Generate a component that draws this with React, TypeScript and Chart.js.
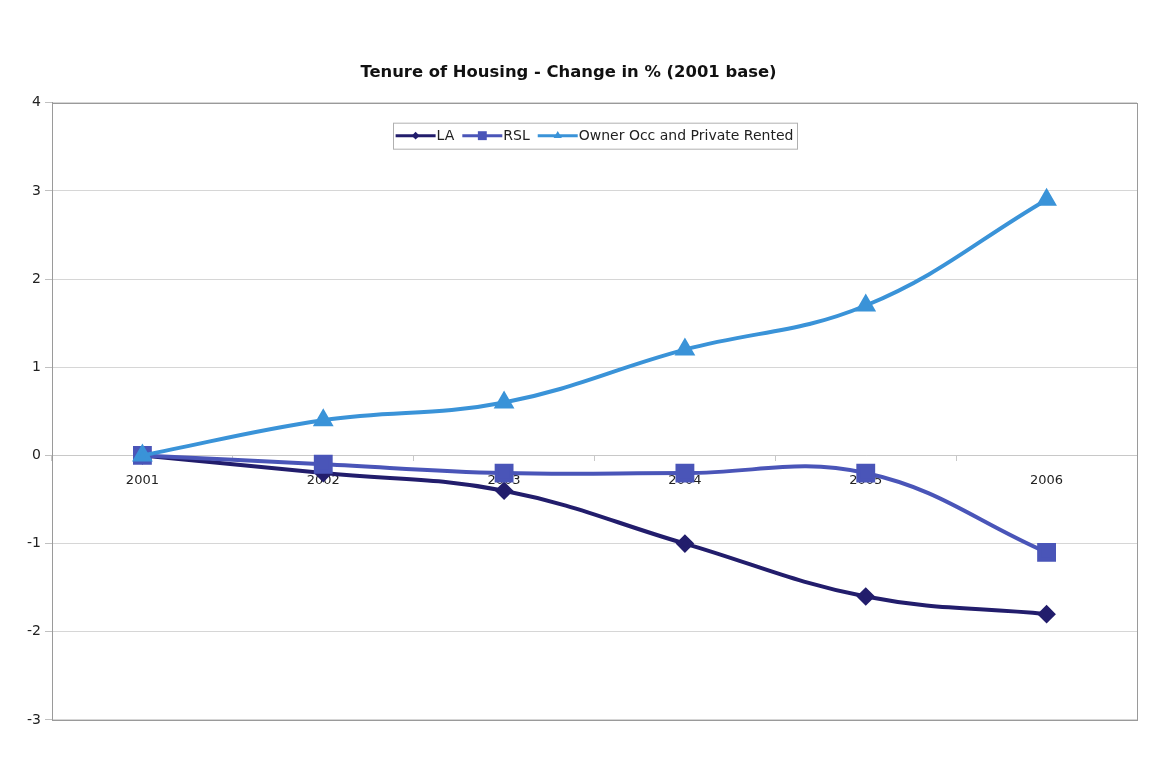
import React, { useEffect, useRef } from "react";
import { Chart, registerables } from "chart.js";

Chart.register(...registerables);

const categories = ["2001", "2002", "2003", "2004", "2005", "2006"];
const laValues = [0, -0.2, -0.4, -1.0, -1.6, -1.8];
const rslValues = [0, -0.1, -0.2, -0.2, -0.2, -1.1];
const ownerValues = [0, 0.4, 0.6, 1.2, 1.7, 2.9];
const seriesNames = ["LA", "RSL", "Owner Occ and Private Rented"];
const titleText = "Tenure of Housing - Change in % (2001 base)";

const FONT = "'DejaVu Sans', Verdana, sans-serif";

function drawMarker(ctx: CanvasRenderingContext2D, style: string, x: number, y: number, r: number, color: string) {
  ctx.save();
  ctx.fillStyle = color;
  ctx.beginPath();
  if (style === "rectRot") {
    ctx.moveTo(x, y - r);
    ctx.lineTo(x + r, y);
    ctx.lineTo(x, y + r);
    ctx.lineTo(x - r, y);
  } else if (style === "rect") {
    const s = r * Math.SQRT1_2;
    ctx.rect(x - s, y - s, 2 * s, 2 * s);
  } else {
    ctx.moveTo(x, y - r);
    ctx.lineTo(x + r * 0.866, y + r * 0.5);
    ctx.lineTo(x - r * 0.866, y + r * 0.5);
  }
  ctx.closePath();
  ctx.fill();
  ctx.restore();
}

const boxedLegend = {
  id: "boxedLegend",
  afterDraw(chart: any) {
    const { ctx, chartArea } = chart;
    const ds = chart.data.datasets;
    ctx.save();
    ctx.font = `14px ${FONT}`;
    const lineLen = 40;
    const gap = 8;
    const padX = 3;
    let total = padX * 2;
    const widths = ds.map((d: any) => ctx.measureText(d.label).width);
    widths.forEach((w: number, i: number) => {
      total += lineLen + 1 + w + (i < ds.length - 1 ? gap : 0);
    });
    const cx = (chartArea.left + chartArea.right) / 2;
    const top = chartArea.top + 20;
    const h = 26;
    let x = cx - total / 2;
    ctx.fillStyle = "#ffffff";
    ctx.fillRect(x, top, total, h);
    ctx.strokeStyle = "#b0b0b0";
    ctx.lineWidth = 1;
    ctx.strokeRect(Math.round(x) + 0.5, top + 0.5, Math.round(total), h);
    const cy = top + h / 2;
    x += padX;
    ds.forEach((d: any, i: number) => {
      ctx.strokeStyle = d.borderColor;
      ctx.lineWidth = 3;
      ctx.beginPath();
      ctx.moveTo(x, cy);
      ctx.lineTo(x + lineLen, cy);
      ctx.stroke();
      drawMarker(ctx, d.pointStyle, x + lineLen / 2, cy, d.pointRadius * 0.6, d.pointBackgroundColor);
      ctx.fillStyle = "#222";
      ctx.textBaseline = "middle";
      ctx.textAlign = "left";
      ctx.fillText(d.label, x + lineLen + 1, cy + 1);
      x += lineLen + 1 + widths[i] + gap;
    });
    ctx.restore();
  },
};

const areaBorder = {
  id: "areaBorder",
  beforeDatasetsDraw(chart: any) {
    const { ctx, chartArea } = chart;
    ctx.save();
    ctx.strokeStyle = "#9a9a9a";
    ctx.lineWidth = 1;
    ctx.strokeRect(
      Math.round(chartArea.left) + 0.5,
      Math.round(chartArea.top) + 0.5,
      Math.round(chartArea.right - chartArea.left),
      Math.round(chartArea.bottom - chartArea.top)
    );
    ctx.restore();
  },
};

export default function App() {
  const ref = useRef<HTMLCanvasElement | null>(null);

  useEffect(() => {
    if (!ref.current) return;
    const chart = new Chart(ref.current, {
      type: "line",
      data: {
        labels: categories,
        datasets: [
          {
            label: seriesNames[0],
            data: laValues,
            borderColor: "#221d6c",
            backgroundColor: "#221d6c",
            pointBackgroundColor: "#221d6c",
            pointBorderColor: "#221d6c",
            pointStyle: "rectRot",
            pointRadius: 6.5,
            borderWidth: 4,
            tension: 0.4,
            order: 3,
          },
          {
            label: seriesNames[1],
            data: rslValues,
            borderColor: "#4a55b8",
            backgroundColor: "#4a55b8",
            pointBackgroundColor: "#4a55b8",
            pointBorderColor: "#4a55b8",
            pointStyle: "rect",
            pointRadius: 10.5,
            borderWidth: 4,
            tension: 0.4,
            order: 2,
          },
          {
            label: seriesNames[2],
            data: ownerValues,
            borderColor: "#3a93d8",
            backgroundColor: "#3a93d8",
            pointBackgroundColor: "#3a93d8",
            pointBorderColor: "#3a93d8",
            pointStyle: "triangle",
            pointRadius: 8,
            borderWidth: 4,
            tension: 0.4,
            order: 1,
          },
        ],
      },
      options: {
        animation: false,
        responsive: false,
        maintainAspectRatio: false,
        layout: { padding: { left: 0, right: 34, top: 0, bottom: 53 } },
        plugins: {
          legend: { display: false },
          tooltip: { enabled: false },
          title: {
            display: true,
            text: titleText,
            color: "#111",
            font: { family: FONT, size: 16.4, weight: "bold" },
            padding: { top: 63, bottom: 20 },
          },
        },
        scales: {
          x: {
            type: "category",
            position: { y: 0 } as any,
            offset: true,
            grid: {
              display: true,
              drawOnChartArea: false,
              drawTicks: true,
              tickLength: 5,
              color: "#c8c8c8",
              offset: true,
            },
            border: { display: true, color: "#c8c8c8", width: 1 },
            ticks: {
              color: "#222",
              font: { family: FONT, size: 13 },
              padding: 12,
              maxRotation: 0,
            },
          },
          y: {
            min: -3,
            max: 4,
            ticks: {
              stepSize: 1,
              color: "#222",
              font: { family: FONT, size: 14 },
              padding: 4,
            },
            grid: {
              color: "#d6d6d6",
              tickLength: 7,
              tickColor: "#c0c0c0",
            },
            border: { display: true, color: "#9a9a9a" },
            afterFit(scale: any) {
              scale.width = 52;
            },
          },
        },
      },
      plugins: [areaBorder, boxedLegend],
    });
    return () => chart.destroy();
  }, []);

  return (
    <div style={{ position: "fixed", left: 0, top: 0, width: 1171, height: 773, background: "#fff" }}>
      <canvas ref={ref} width={1171} height={773} style={{ width: 1171, height: 773 }} />
    </div>
  );
}
